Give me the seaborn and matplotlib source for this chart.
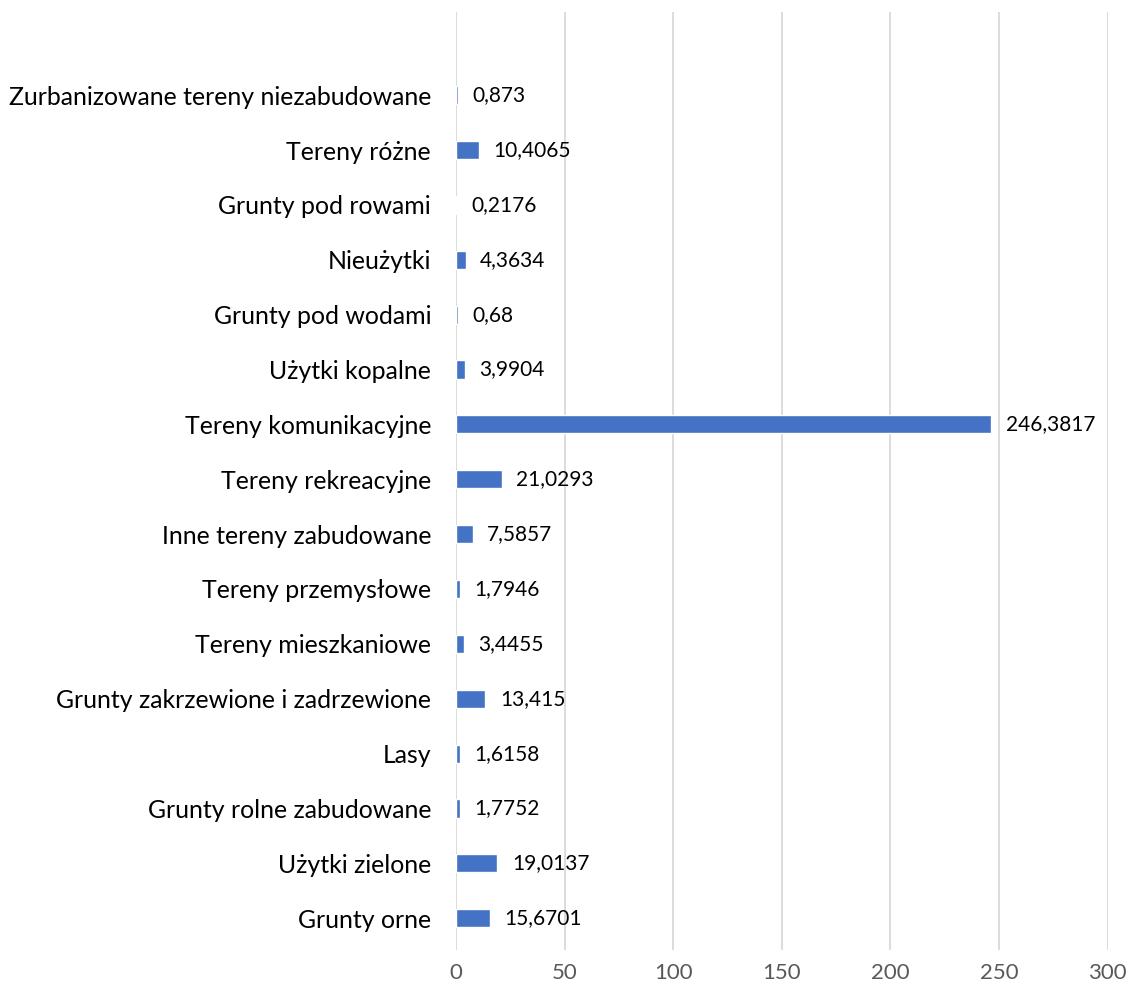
import matplotlib
matplotlib.use("Agg")
import matplotlib.pyplot as plt
import seaborn as sns
import pandas as pd

categories = [
    "Zurbanizowane tereny niezabudowane",
    "Tereny różne",
    "Grunty pod rowami",
    "Nieużytki",
    "Grunty pod wodami",
    "Użytki kopalne",
    "Tereny komunikacyjne",
    "Tereny rekreacyjne",
    "Inne tereny zabudowane",
    "Tereny przemysłowe",
    "Tereny mieszkaniowe",
    "Grunty zakrzewione i zadrzewione",
    "Lasy",
    "Grunty rolne zabudowane",
    "Użytki zielone",
    "Grunty orne",
]
values = [0.873, 10.4065, 0.2176, 4.3634, 0.68, 3.9904, 246.3817, 21.0293,
          7.5857, 1.7946, 3.4455, 13.415, 1.6158, 1.7752, 19.0137, 15.6701]
xticks = [0, 50, 100, 150, 200, 250, 300]

df = pd.DataFrame({"cat": categories, "val": values})

sns.set_theme(style="white")
plt.rcParams['font.family'] = ['Lato', 'DejaVu Sans']

fig = plt.figure(figsize=(11.29, 9.85), dpi=100)
ax = fig.add_axes([0.404, 0.0355, 0.577, 0.952])

sns.barplot(data=df, x="val", y="cat", order=categories, color="#4472C4",
            saturation=1, width=0.33, ax=ax, orient="h")

labels = [str(v).replace('.', ',') for v in values]
ax.bar_label(ax.containers[0], labels=labels, padding=10.5, fontsize=15, color="#000000")

ax.set_xlim(0, 300)
ax.set_ylim(15.58, -1.51)
ax.set_xticks(xticks)
ax.set_xticklabels([str(t) for t in xticks], fontsize=16, color="#595959")
ax.tick_params(axis='y', labelsize=17.9, colors="#000000", length=0, pad=18)
ax.tick_params(axis='x', length=0, pad=9)
ax.xaxis.grid(True, color="#d9d9d9", linewidth=1.3)
ax.set_axisbelow(True)
for s in ax.spines.values():
    s.set_visible(False)
ax.set_xlabel("")
ax.set_ylabel("")

fig.savefig("out.png", dpi=100)
